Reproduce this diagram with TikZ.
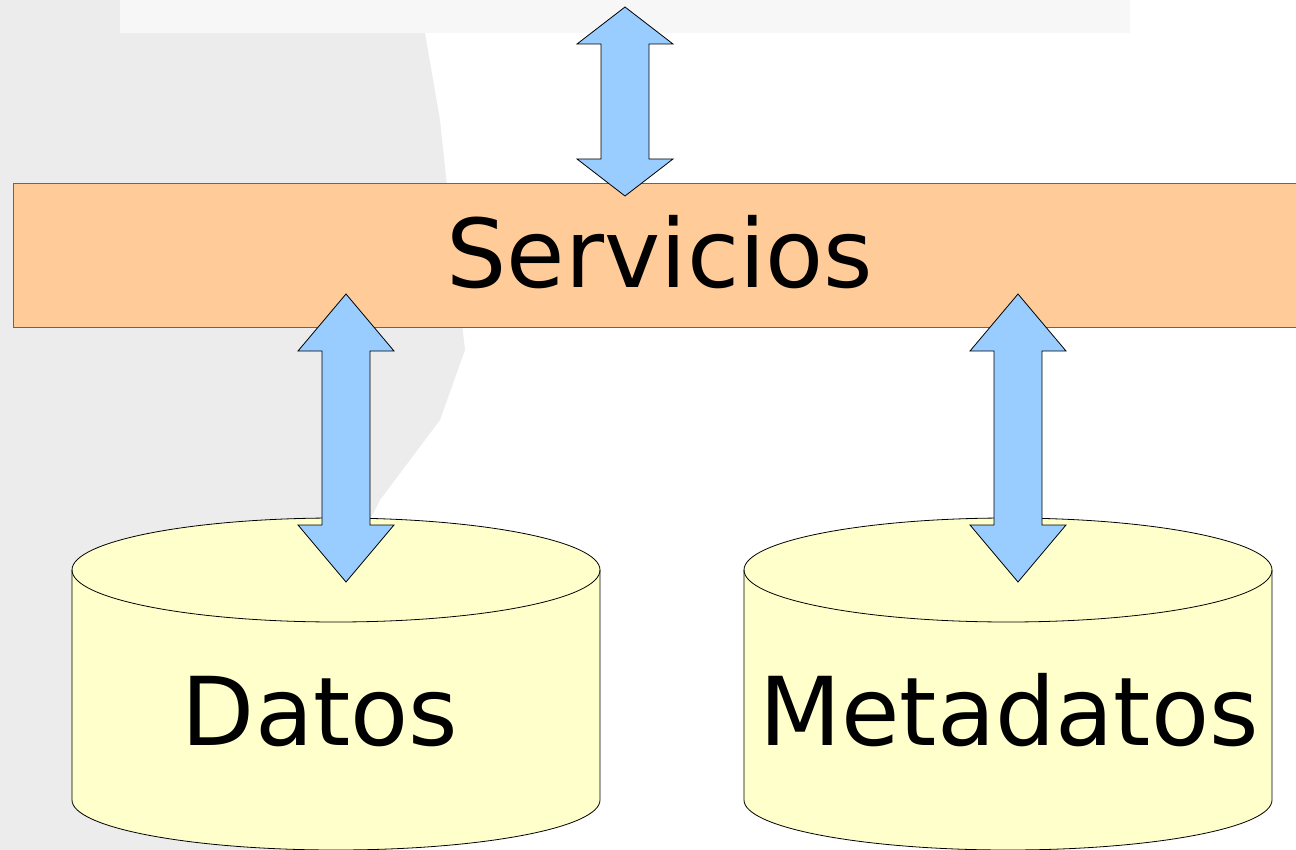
\documentclass[tikz,border=0pt]{standalone}
\usepackage{fontspec}
\setmainfont{DejaVu Sans}
\tikzset{
  bigtext/.style={font=\fontsize{95}{110}\selectfont, inner sep=0pt, anchor=base},
  boxstyle/.style={fill=servfill, draw=black!60, line width=1pt},
  cylstyle/.style={fill=cylfill, draw=black, line width=0.8pt},
  arrowstyle/.style={fill=arrfill, draw=black, line width=0.8pt, line join=miter},
}
\definecolor{servfill}{HTML}{FFCC99}
\definecolor{cylfill}{HTML}{FFFFCC}
\definecolor{arrfill}{HTML}{99CCFF}
\definecolor{wm}{HTML}{ECECEC}
% double block arrow: #1 centre x, #2 top tip, #3 top head base, #4 bottom head base, #5 bottom tip
\newcommand{\dblarrow}[5]{%
  \draw[arrowstyle] (#1,#2) -- (#1+48,#3) -- (#1+24,#3) -- (#1+24,#4) -- (#1+48,#4)
    -- (#1,#5) -- (#1-48,#4) -- (#1-24,#4) -- (#1-24,#3) -- (#1-48,#3) -- cycle;}
\newcommand{\cylinder}[2]{% #1 centre x, #2 name
  \draw[cylstyle] (#1-264,570) -- (#1-264,800) arc[start angle=180,end angle=360,x radius=264,y radius=-50]
    -- (#1+264,570) arc[start angle=0,end angle=180,x radius=264,y radius=-52] -- cycle;
  \draw[cylstyle, fill=none] (#1-264,570) arc[start angle=180,end angle=360,x radius=264,y radius=-52];
  \coordinate (#2) at (#1,518);}
\begin{document}
\begin{tikzpicture}[x=1pt,y=-1pt]
\useasboundingbox (0,0) rectangle (1296,850);
% faint background watermark
\fill[wm] (0,0) -- (120,0) -- (120,33) -- (425,33) -- (440,120) -- (455,260) -- (465,350)
  -- (440,420) -- (380,500) -- (330,600) -- (300,720) -- (280,850) -- (0,850) -- cycle;
\fill[white!97!black] (120,0) rectangle (1130,33);
% Servicios layer
\node[boxstyle, minimum width=1300pt, minimum height=144pt, anchor=north west, inner sep=0pt] (serv) at (13,183) {};
\node[bigtext] (servt) at (660,288) {Servicios};
% storage cylinders
\cylinder{336}{datos}
\cylinder{1008}{meta}
\node[bigtext] (datost) at (320,745) {Datos};
\node[bigtext] (metat) at (1009,745) {Metadatos};
% arrows
\dblarrow{625}{7}{44}{159}{196}
\dblarrow{346}{294}{351}{525}{582}
\dblarrow{1018}{294}{351}{525}{582}
\end{tikzpicture}
\end{document}
